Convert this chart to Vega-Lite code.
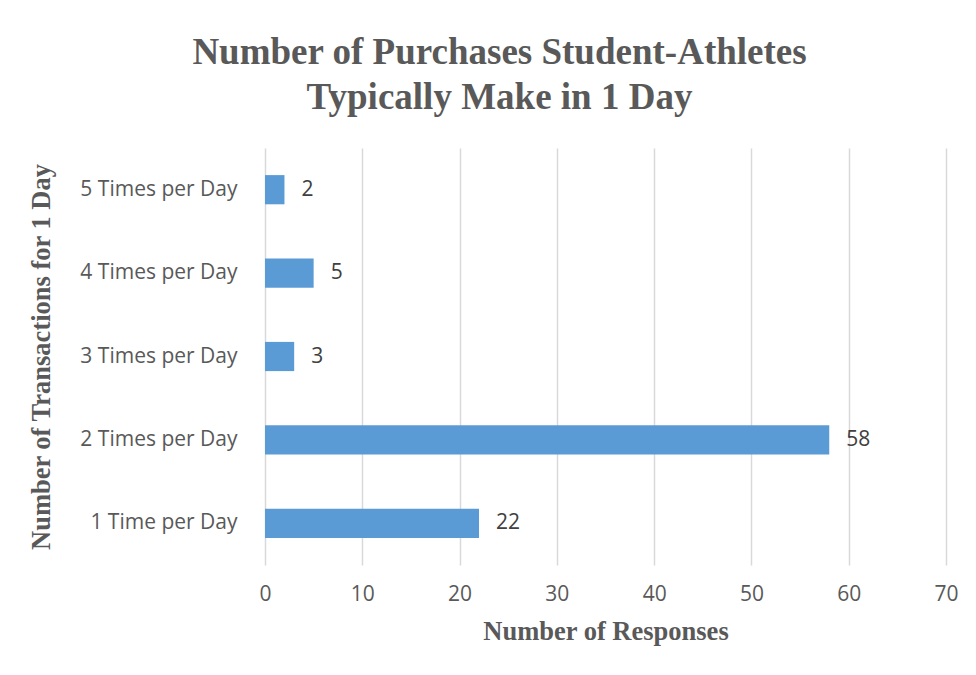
{
  "$schema": "https://vega.github.io/schema/vega-lite/v6.json",
  "width": 681,
  "height": 417,
  "autosize": {"type": "none"},
  "padding": {"left": 265, "top": 148, "right": 30, "bottom": 110},
  "background": "white",
  "title": {
    "text": ["Number of Purchases Student-Athletes", "Typically Make in 1 Day"],
    "font": "Liberation Serif",
    "fontSize": 37,
    "fontWeight": "bold",
    "color": "#595959",
    "lineHeight": 45,
    "anchor": "middle",
    "dx": -106,
    "offset": 31
  },
  "config": {
    "view": {"stroke": null},
    "axis": {"labelFont": "Open Sans", "labelColor": "#595959", "titleFont": "Liberation Serif", "titleColor": "#595959"}
  },
  "data": {
    "values": [
      {"category": "5 Times per Day", "responses": 2},
      {"category": "4 Times per Day", "responses": 5},
      {"category": "3 Times per Day", "responses": 3},
      {"category": "2 Times per Day", "responses": 58},
      {"category": "1 Time per Day", "responses": 22}
    ]
  },
  "encoding": {
    "y": {
      "field": "category",
      "type": "nominal",
      "sort": ["5 Times per Day", "4 Times per Day", "3 Times per Day", "2 Times per Day", "1 Time per Day"],
      "scale": {"paddingInner": 0.65, "paddingOuter": 0.325},
      "axis": {
        "title": "Number of Transactions for 1 Day",
        "titleFontSize": 26.5,
        "titleFontWeight": "bold",
        "titlePadding": 24,
        "labelFontSize": 21,
        "labelPadding": 28,
        "ticks": false,
        "domain": false,
        "grid": false
      }
    },
    "x": {
      "field": "responses",
      "type": "quantitative",
      "scale": {"domain": [0, 70], "nice": false},
      "axis": {
        "title": "Number of Responses",
        "titleFontSize": 26.5,
        "titleFontWeight": "bold",
        "titlePadding": 14,
        "values": [0, 10, 20, 30, 40, 50, 60, 70],
        "labelFontSize": 21,
        "labelPadding": 18,
        "labelFlush": false,
        "labelOverlap": false,
        "ticks": false,
        "domain": false,
        "grid": true,
        "gridColor": "#d9d9d9",
        "gridWidth": 1.5
      }
    }
  },
  "layer": [
    {"mark": {"type": "bar", "color": "#5b9bd5"}},
    {
      "mark": {"type": "text", "align": "left", "dx": 17, "font": "Open Sans", "fontSize": 21, "color": "#404040"},
      "encoding": {"text": {"field": "responses", "type": "quantitative"}}
    }
  ]
}
